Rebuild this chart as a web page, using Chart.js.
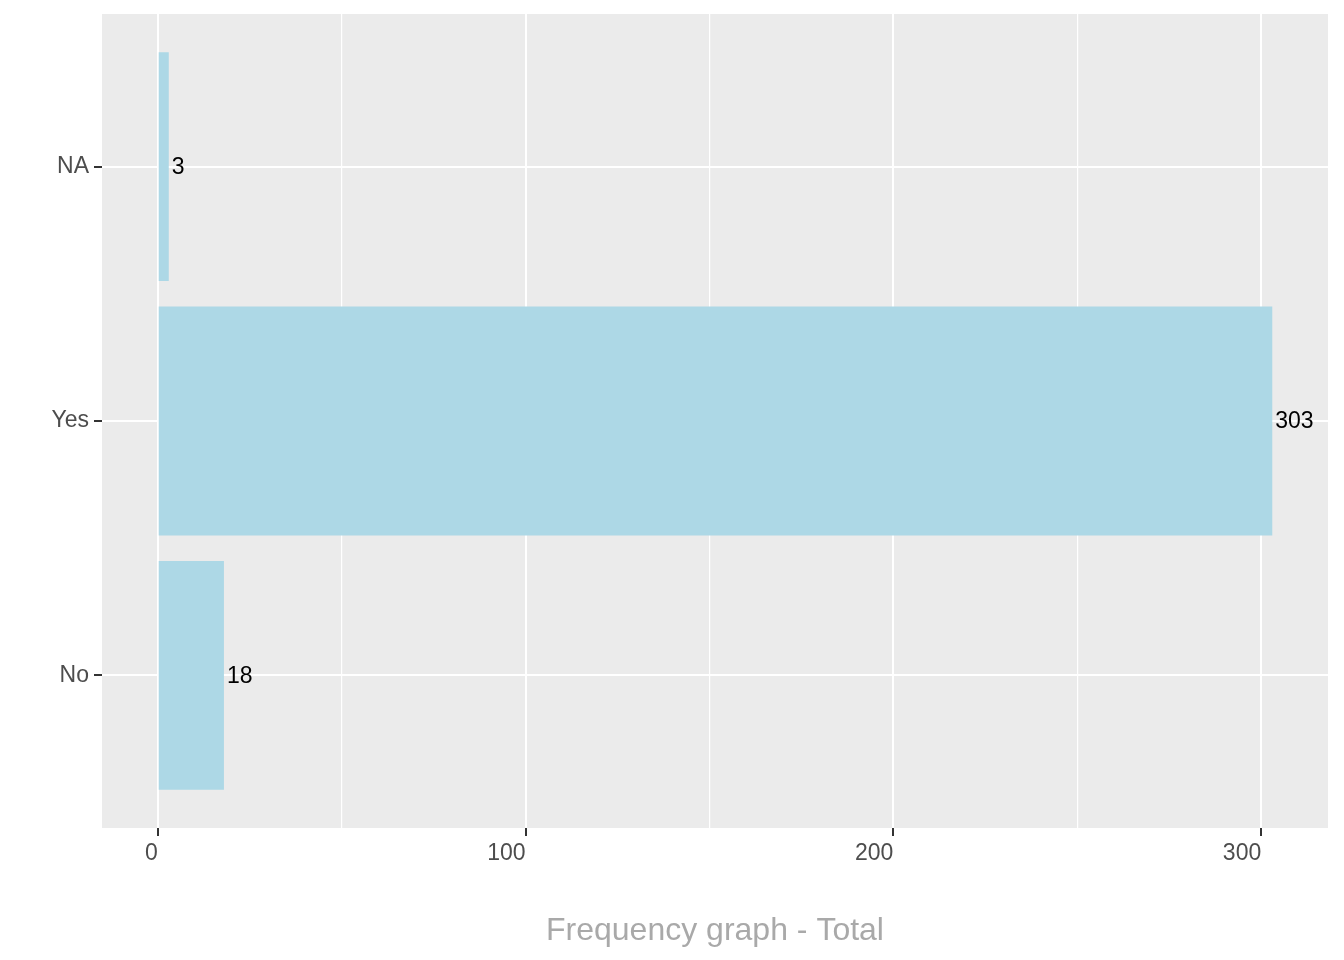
<!DOCTYPE html>
<html>
<head>
<meta charset="utf-8">
<script src="https://cdn.jsdelivr.net/npm/chart.js@4/dist/chart.umd.min.js"></script>
<style>
  html, body { margin:0; padding:0; background:#fff; }
  #wrap { width:1344px; height:960px; position:relative; }
</style>
</head>
<body>
<div id="wrap"><canvas id="chart"></canvas></div>
<script>
const categories = ['No', 'Yes', 'NA'];
const counts = [18, 303, 3];
const xTicks = [0, 50, 100, 150, 200, 250, 300];
const xTitle = 'Frequency graph - Total';

const FONT = '"Liberation Sans", Arial, sans-serif';

// grey panel behind the grid, like ggplot
const panelBg = {
  id: 'panelBg',
  beforeDraw(chart){
    const {ctx, chartArea:a} = chart;
    ctx.save();
    ctx.fillStyle = '#EBEBEB';
    ctx.fillRect(a.left, a.top, a.right - a.left, a.bottom - a.top);
    ctx.restore();
  }
};

// count printed just right of each bar
const barLabels = {
  id: 'barLabels',
  afterDatasetsDraw(chart){
    const {ctx} = chart;
    const meta = chart.getDatasetMeta(0);
    ctx.save();
    ctx.font = '23px ' + FONT;
    ctx.fillStyle = '#000';
    ctx.textAlign = 'left';
    ctx.textBaseline = 'middle';
    meta.data.forEach((bar, i) => {
      ctx.fillText(String(counts[i]), bar.x + 3, bar.y + 1);
    });
    ctx.restore();
  }
};

const data = {
  datasets: [{
    data: counts.map((v, i) => ({ x: v, y: i + 1 })),
    backgroundColor: '#ADD8E6',
    borderWidth: 0,
    barPercentage: 0.9,
    categoryPercentage: 1.0,
  }]
};

new Chart(document.getElementById('chart'), {
  type: 'bar',
  data,
  options: {
    indexAxis: 'y',
    responsive: true,
    maintainAspectRatio: false,
    animation: false,
    layout: { padding: { top: 14, right: 16, left: 0, bottom: 0 } },
    plugins: { legend: { display: false }, tooltip: { enabled: false } },
    scales: {
      x: {
        type: 'linear',
        min: -15.15,
        max: 318.15,
        afterBuildTicks: s => { s.ticks = xTicks.map(v => ({ value: v })); },
        afterFit: s => { s.height = 132; s.paddingLeft = 0; s.paddingRight = 0; },
        border: { display: false },
        grid: {
          color: '#FFFFFF',
          lineWidth: c => (c.tick && c.tick.value % 100 === 0) ? 2 : 1.2,
          tickColor: c => (c.tick && c.tick.value % 100 === 0) ? '#333333' : 'rgba(0,0,0,0)',
          tickWidth: 2,
          tickLength: 8,
        },
        ticks: {
          autoSkip: false,
          maxRotation: 0,
          align: 'end',
          padding: 4,
          color: '#4D4D4D',
          font: { family: FONT, size: 23 },
          callback: v => (v % 100 === 0 ? String(v) : ''),
        },
        title: {
          display: true,
          text: xTitle,
          color: '#A9A9A9',
          font: { family: FONT, size: 32 },
          padding: { top: 0, bottom: 10 },
        },
      },
      y: {
        type: 'linear',
        min: 0.4,
        max: 3.6,
        offset: false,
        afterBuildTicks: s => { s.ticks = categories.map((c, i) => ({ value: i + 1 })); },
        afterFit: s => { s.width = 102; s.paddingTop = 0; s.paddingBottom = 0; },
        border: { display: false },
        grid: {
          offset: false,
          color: '#FFFFFF',
          lineWidth: 2,
          tickColor: '#333333',
          tickWidth: 2,
          tickLength: 8,
        },
        ticks: {
          autoSkip: false,
          padding: 5,
          color: '#4D4D4D',
          font: { family: FONT, size: 23 },
          callback: v => categories[Math.round(v) - 1] || '',
        },
      },
    },
  },
  plugins: [panelBg, barLabels],
});
</script>
</body>
</html>
